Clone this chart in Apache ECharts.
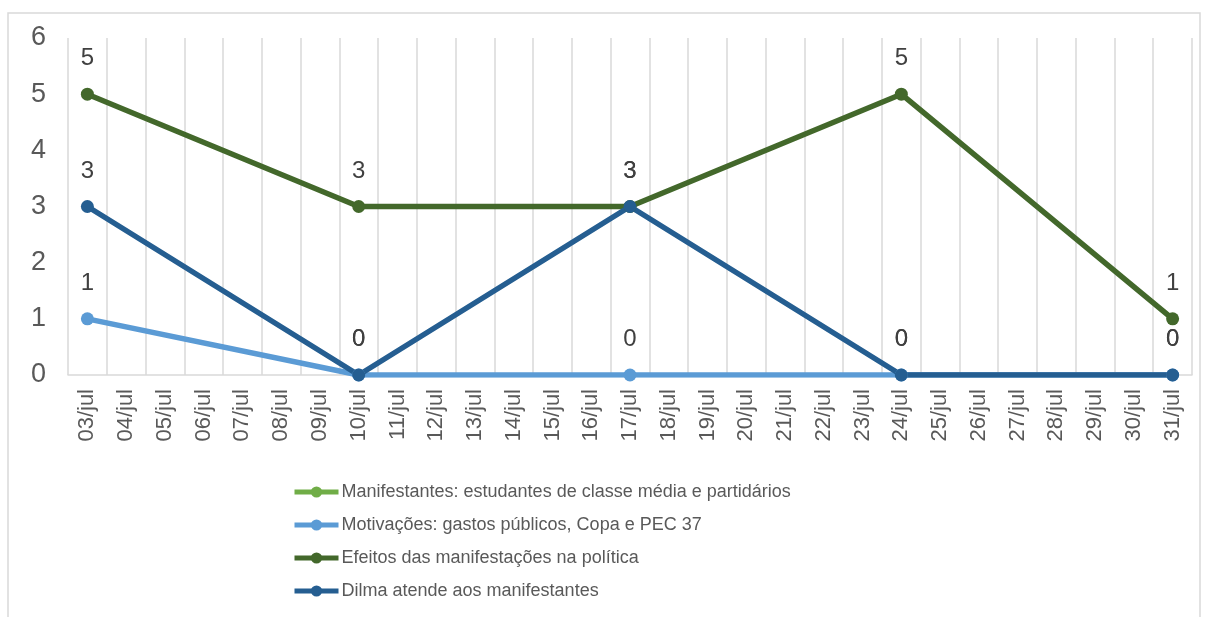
<!DOCTYPE html>
<html>
<head>
<meta charset="utf-8">
<script src="https://cdn.jsdelivr.net/npm/echarts@6/dist/echarts.min.js"></script>
<style>
  html, body { margin: 0; padding: 0; background: #fff; }
  #chart { width: 1208px; height: 617px; }
</style>
</head>
<body>
<div id="chart"></div>
<script>
// days 03/jul .. 31/jul
const days = ['03/jul', '04/jul', '05/jul', '06/jul', '07/jul', '08/jul', '09/jul', '10/jul',
  '11/jul', '12/jul', '13/jul', '14/jul', '15/jul', '16/jul', '17/jul', '18/jul', '19/jul',
  '20/jul', '21/jul', '22/jul', '23/jul', '24/jul', '25/jul', '26/jul', '27/jul', '28/jul',
  '29/jul', '30/jul', '31/jul']

const _ = null
// weekly readings only (03, 10, 17, 24, 31)
const manifestantes = [_, _, _, _, _, _, _, _, _, _, _, _, _, _, _, _, _, _, _, _, _, _, _, _, _, _, _, _, _]
const motivacoes = [1, _, _, _, _, _, _, 0, _, _, _, _, _, _, 0, _, _, _, _, _, _, 0, _, _, _, _, _, _, 0]
const efeitos = [5, _, _, _, _, _, _, 3, _, _, _, _, _, _, 3, _, _, _, _, _, _, 5, _, _, _, _, _, _, 1]
const dilma = [3, _, _, _, _, _, _, 0, _, _, _, _, _, _, 3, _, _, _, _, _, _, 0, _, _, _, _, _, _, 0]

const yTicks = [0, 1, 2, 3, 4, 5, 6]

const chart = echarts.init(document.getElementById('chart'))

function line(name, data, color) {
  return {
    name: name,
    type: 'line',
    data: data,
    connectNulls: true,
    symbol: 'circle',
    symbolSize: 13,
    lineStyle: { width: 5.5, color: color },
    itemStyle: { color: color },
    label: {
      show: true,
      position: 'top',
      distance: 17,
      fontSize: 24,
      color: '#404040'
    }
  }
}

chart.setOption({
  animation: false,
  textStyle: { fontFamily: 'Liberation Sans' },
  graphic: [{
    type: 'rect',
    shape: { x: 8, y: 13, width: 1192, height: 620 },
    style: { fill: 'none', stroke: '#d9d9d9', lineWidth: 1.5 },
    silent: true
  }],
  grid: { left: 68, right: 16, top: 38, bottom: 242 },
  legend: {
    orient: 'vertical',
    left: 287,
    top: 478,
    itemWidth: 44,
    itemHeight: 14,
    itemGap: 15,
    lineStyle: { width: 5 },
    textStyle: { fontSize: 18, color: '#595959', padding: [0, 0, 0, -2] },
    data: [
      'Manifestantes: estudantes de classe média e partidários',
      'Motivações: gastos públicos, Copa e PEC 37',
      'Efeitos das manifestações na política',
      'Dilma atende aos manifestantes'
    ]
  },
  xAxis: {
    type: 'category',
    data: days,
    boundaryGap: true,
    axisLine: { lineStyle: { color: '#d9d9d9', width: 1.5 } },
    axisTick: { show: false },
    splitLine: { show: true, interval: 0, lineStyle: { color: '#d9d9d9', width: 1.5 } },
    axisLabel: { interval: 0, rotate: 90, fontSize: 22, color: '#595959', margin: 14 }
  },
  yAxis: {
    type: 'value',
    min: yTicks[0],
    max: yTicks[yTicks.length - 1],
    interval: 1,
    axisLine: { show: false },
    axisTick: { show: false },
    splitLine: { show: false },
    axisLabel: { fontSize: 27, color: '#595959', margin: 22 }
  },
  series: [
    line('Manifestantes: estudantes de classe média e partidários', manifestantes, '#70ad47'),
    line('Motivações: gastos públicos, Copa e PEC 37', motivacoes, '#5b9bd5'),
    line('Efeitos das manifestações na política', efeitos, '#43682b'),
    line('Dilma atende aos manifestantes', dilma, '#255e91')
  ]
})
</script>
</body>
</html>
